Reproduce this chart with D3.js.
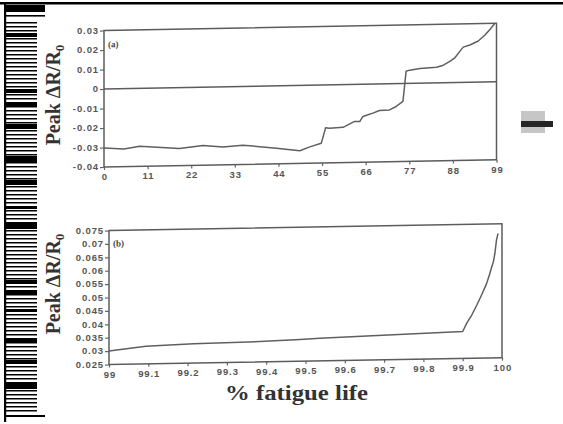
<!DOCTYPE html>
<html>
<head>
<meta charset="utf-8">
<script src="https://cdn.jsdelivr.net/npm/d3@7"></script>
<style>
body { margin: 0; background: #fff; }
svg { display: block; }
.tick line { stroke: #666; stroke-width: 1.2; }
.domain { stroke: none; }
.tlabel { font-family: "Liberation Sans", Arial, sans-serif; font-weight: bold; font-size: 9.5px; fill: #555; letter-spacing: 0.9px; }
</style>
</head>
<body>
<svg id="chart" width="563" height="424"></svg>
<script>
// (a) whole fatigue life
var lifeA = [0, 5, 9, 19, 25, 30, 35, 43.5, 49.4, 51.9, 54.8, 55.9, 56.9, 60.3, 62, 63.2, 64.5, 65.3, 66.6,
	67.8, 69.5, 72, 73.7, 75.4, 75.8, 76.2, 77.1, 79.7, 83.9, 85.6, 87.3, 88.5, 89.8, 90.6, 92.3, 94.4,
	96.1, 97.4, 98.6];
var peakA = [-0.0302, -0.031, -0.0297, -0.0312, -0.0299, -0.0309, -0.0301, -0.032, -0.0335, -0.0316,
	-0.0299, -0.0219, -0.0222, -0.0219, -0.0202, -0.019, -0.0191, -0.0165, -0.0157, -0.0149, -0.0136,
	-0.0134, -0.0117, -0.0092, -0.0015, 0.0063, 0.0068, 0.0076, 0.008, 0.009, 0.011, 0.0127, 0.0161,
	0.0181, 0.0191, 0.0211, 0.0241, 0.027, 0.030];
var ticksAx = [0, 11, 22, 33, 44, 55, 66, 77, 88, 99];
var labelsAx = ["0", "11", "22", "33", "44", "55", "66", "77", "88", "99"];
var ticksAy = [0.03, 0.02, 0.01, 0, -0.01, -0.02, -0.03, -0.04];
var labelsAy = ["0.03", "0.02", "0.01", "0", "-0.01", "-0.02", "-0.03", "-0.04"];

// (b) last 1% of life
var lifeB = [99, 99.094, 99.215, 99.384, 99.486, 99.537, 99.656, 99.9, 99.91, 99.923, 99.936, 99.948,
	99.961, 99.969, 99.974, 99.978, 99.982, 99.986, 99.99];
var peakB = [0.030, 0.0316, 0.0322, 0.0326, 0.0331, 0.0334, 0.034, 0.035, 0.038, 0.0411, 0.0448, 0.0485,
	0.0528, 0.0565, 0.059, 0.0608, 0.064, 0.069, 0.0714];
var ticksBx = [99, 99.1, 99.2, 99.3, 99.4, 99.5, 99.6, 99.7, 99.8, 99.9, 100];
var labelsBx = ["99", "99.1", "99.2", "99.3", "99.4", "99.5", "99.6", "99.7", "99.8", "99.9", "100"];
var ticksBy = [0.075, 0.07, 0.065, 0.06, 0.055, 0.05, 0.045, 0.04, 0.035, 0.03, 0.025];
var labelsBy = ["0.075", "0.07", "0.065", "0.06", "0.055", "0.05", "0.045", "0.04", "0.035", "0.03", "0.025"];

// scan leftovers (barcode strip on the left edge)
var thickStripes = [[33, 4], [89, 4], [102, 4], [124, 5], [156, 6], [180, 5], [206, 3], [222, 7],
	[280, 4], [290, 5], [309, 3], [339, 4], [360, 4], [382, 7]];

var svg = d3.select("#chart");
var scan = svg.append("g").attr("class", "scan");
var labels = svg.append("g").attr("class", "labels");

//
// panels
//
function drawPanel(p) {
	// the scanned figure is slightly tilted
	var tilt = Math.tan(p.skew * Math.PI / 180);
	var g = svg.append("g")
		.attr("transform", "translate(" + p.left + "," + p.top + ") skewY(" + p.skew + ")");

	var x = d3.scaleLinear().domain(p.xdom).range([0, p.w]);
	var y = d3.scaleLinear().domain(p.ydom).range([p.h, 0]);

	g.append("g")
		.attr("transform", "translate(0," + p.h + ")")
		.call(d3.axisBottom(x).tickValues(p.xt).tickFormat("").tickSize(3));
	g.append("g")
		.call(d3.axisLeft(y).tickValues(p.yt).tickFormat("").tickSize(4));

	// frame
	g.append("rect")
		.attr("width", p.w).attr("height", p.h)
		.attr("fill", "none").attr("stroke", "#5c5c5c").attr("stroke-width", 1.5);

	if (p.zero) {
		g.append("line")
			.attr("x1", 0).attr("x2", p.w)
			.attr("y1", y(0)).attr("y2", y(0))
			.attr("stroke", "#5c5c5c").attr("stroke-width", 1.5);
	}

	var line = d3.line()
		.x(function(d, i) { return x(p.xs[i]); })
		.y(function(d) { return y(d); });
	g.append("path")
		.datum(p.ys)
		.attr("d", line)
		.attr("fill", "none")
		.attr("stroke", "#5f5f5f")
		.attr("stroke-width", 1.5)
		.attr("stroke-linejoin", "round");

	g.append("text")
		.attr("x", p.tagX).attr("y", p.tagY)
		.attr("font-family", "Liberation Serif").attr("font-weight", "bold").attr("font-size", 9)
		.attr("fill", "#444")
		.text(p.tag);

	// x tick labels: one text element, one tspan per tick, upright along the tilted axis
	labels.append("text")
		.attr("class", "tlabel")
		.attr("text-anchor", "middle")
		.selectAll("tspan").data(p.xt).enter().append("tspan")
		.attr("x", function(d) { return p.left + x(d) + 0.9; })
		.attr("y", function(d) { return p.top + p.h + tilt * x(d) + 13; })
		.text(function(d, i) { return p.xl[i]; });
	labels.selectAll(null).data(p.yt).enter().append("text")
		.attr("class", "tlabel")
		.attr("text-anchor", "end")
		.attr("x", p.left - 5)
		.attr("y", function(d) { return p.top + y(d) + 3.3; })
		.text(function(d, i) { return p.yl[i]; });
}

drawPanel({
	left: 104, top: 30.5, w: 392.5, h: 136.5, skew: -1.05,
	xdom: [0, 99], ydom: [-0.04, 0.03],
	xt: ticksAx, xl: labelsAx, yt: ticksAy, yl: labelsAy,
	xs: lifeA, ys: peakA, zero: true,
	tag: "(a)", tagX: 4, tagY: 17
});

drawPanel({
	left: 109, top: 230.5, w: 393, h: 134, skew: -1.0,
	xdom: [99, 100], ydom: [0.025, 0.075],
	xt: ticksBx, xl: labelsBx, yt: ticksBy, yl: labelsBy,
	xs: lifeB, ys: peakB, zero: false,
	tag: "(b)", tagX: 4, tagY: 16
});

// y titles
[95, 284].forEach(function(cy) {
	var t = svg.append("text")
		.attr("transform", "translate(60," + cy + ") rotate(-90)")
		.attr("text-anchor", "middle")
		.attr("font-family", "Liberation Serif").attr("font-weight", "bold").attr("font-size", 20)
		.attr("fill", "#333");
	t.append("tspan").text("Peak \u0394R/R");
	t.append("tspan").attr("font-size", 13).attr("dy", 4).text("0");
});

// x title
svg.append("text")
	.attr("x", 225).attr("y", 400)
	.attr("textLength", 143).attr("lengthAdjust", "spacingAndGlyphs")
	.attr("font-family", "Liberation Serif").attr("font-weight", "bold").attr("font-size", 20)
	.attr("fill", "#333")
	.text("% fatigue life");

//
// scan artefacts (own group, behind the chart)
//
scan.append("rect").attr("x", 0).attr("y", 2).attr("width", 563).attr("height", 2.5).attr("fill", "#000");
scan.append("rect").attr("x", 4).attr("y", 2).attr("width", 2.2).attr("height", 420).attr("fill", "#000");
scan.append("rect").attr("x", 5).attr("y", 5).attr("width", 40).attr("height", 7).attr("fill", "#000");
scan.append("rect").attr("x", 5).attr("y", 15).attr("width", 40).attr("height", 1.6).attr("fill", "#000");
scan.append("rect").attr("x", 5).attr("y", 415).attr("width", 40).attr("height", 2).attr("fill", "#000");
scan.selectAll(".thin").data(d3.range(22, 412, 4)).enter().append("rect")
	.attr("class", "thin")
	.attr("x", 5).attr("y", function(d) { return d; })
	.attr("width", 32).attr("height", 1.5).attr("fill", "#000");
scan.selectAll(".thick").data(thickStripes).enter().append("rect")
	.attr("class", "thick")
	.attr("x", 5).attr("y", function(d) { return d[0]; })
	.attr("width", 32).attr("height", function(d) { return d[1]; }).attr("fill", "#000");
scan.append("rect").attr("x", 521).attr("y", 111).attr("width", 24).attr("height", 22).attr("fill", "#c6c6c6");
scan.append("rect").attr("x", 521).attr("y", 121).attr("width", 32).attr("height", 6).attr("fill", "#262626");
</script>
</body>
</html>
